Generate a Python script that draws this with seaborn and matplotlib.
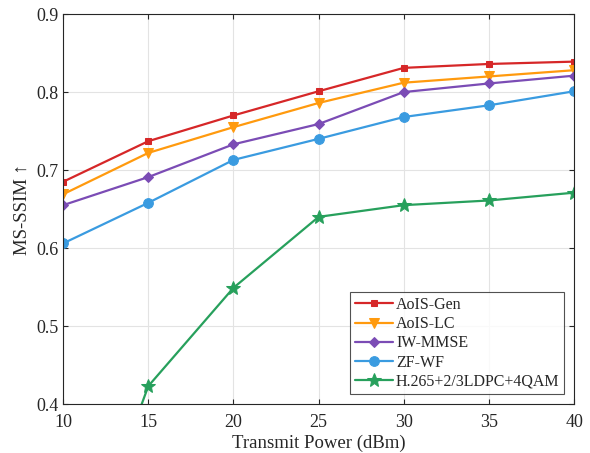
import matplotlib
matplotlib.use('Agg')
import seaborn as sns
import matplotlib.pyplot as plt
import pandas as pd

power = [10, 15, 20, 25, 30, 35, 40]
aois_gen = [0.685, 0.737, 0.770, 0.801, 0.831, 0.836, 0.839]
aois_lc = [0.669, 0.722, 0.755, 0.786, 0.812, 0.820, 0.828]
iw_mmse = [0.655, 0.691, 0.733, 0.759, 0.800, 0.811, 0.821]
zf_wf = [0.606, 0.658, 0.713, 0.740, 0.768, 0.783, 0.801]
h265 = [0.125, 0.423, 0.549, 0.640, 0.655, 0.661, 0.671]

names = ["AoIS-Gen", "AoIS-LC", "IW-MMSE", "ZF-WF", "H.265+2/3LDPC+4QAM"]
colors = ["#d62728", "#ff9a0e", "#7b4cb5", "#3a9be0", "#27a05c"]
markers = ["s", "v", "D", "o", "*"]
msizes = [5, 7, 5.5, 7, 10]

sns.set_style("ticks")
plt.rcParams['font.family'] = ['Liberation Serif', 'DejaVu Serif']

df = pd.DataFrame({"power": power * 5,
                   "value": aois_gen + aois_lc + iw_mmse + zf_wf + h265,
                   "method": [n for n in names for _ in power]})

fig = plt.figure(figsize=(5.9, 4.53), dpi=100)
ax = fig.add_axes([0.107, 0.108, 0.866, 0.861])
for name, c, m, ms in zip(names, colors, markers, msizes):
    sns.lineplot(data=df[df.method == name], x="power", y="value", ax=ax,
                 color=c, marker=m, markersize=ms, markeredgecolor=c,
                 linewidth=1.6, label=name)

ax.set_xlim(10, 40)
ax.set_ylim(0.4, 0.9)
ax.set_xticks(power)
ax.set_yticks([0.4, 0.5, 0.6, 0.7, 0.8, 0.9])
ax.grid(True, color="#e3e3e3", linewidth=0.8)
ax.tick_params(direction="in", top=True, right=True, labelsize=13, colors="#262626")
ax.tick_params(axis="x", pad=7)
for s in ax.spines.values():
    s.set_color("#262626")
    s.set_linewidth(0.8)
ax.set_xlabel("Transmit Power (dBm)", fontsize=13.5, labelpad=3)
ax.set_ylabel("MS-SSIM ↑", fontsize=13.5, labelpad=4)
leg = ax.legend(loc="lower right", fontsize=11.5, frameon=True, fancybox=False,
                edgecolor="#262626", borderpad=0.3, labelspacing=0.2,
                handlelength=2.4, handletextpad=0.2, borderaxespad=0.6)
leg.get_frame().set_linewidth(0.8)

plt.savefig("out.png", dpi=100)
